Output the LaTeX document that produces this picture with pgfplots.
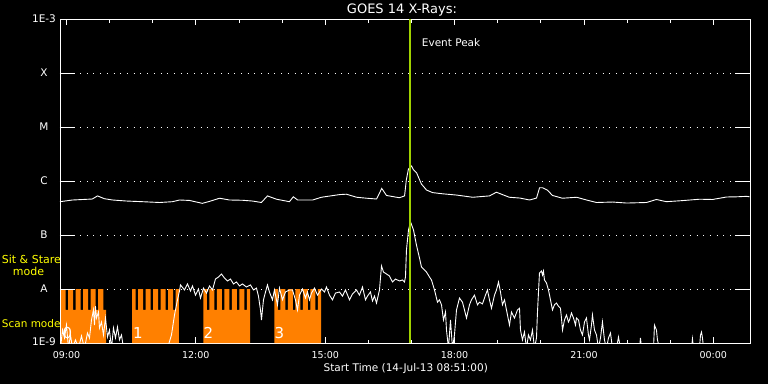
\documentclass[border=0pt]{standalone}
\usepackage{fontspec}
\setmainfont{DejaVu Sans}
\usepackage{pgfplots}
\pgfplotsset{compat=1.18}
\definecolor{scanorange}{RGB}{255,128,0}
\definecolor{peakgreen}{RGB}{160,210,0}
\definecolor{idlyellow}{RGB}{255,255,0}
\newcommand\fs[1]{\fontsize{#1}{#1}\selectfont}
\begin{document}
\begin{tikzpicture}[x=1pt,y=1pt]
\path[use as bounding box] (-60,-41) rectangle (708,343);
\fill[black] (-60,-41) rectangle (708,343);
\begin{axis}[
  at={(0,0)}, anchor=south west, scale only axis,
  width=690pt, height=324pt,
  xmin=8.85, xmax=24.85, ymode=log, ymin=1e-9, ymax=1e-3,
  axis line style={white, line width=0.9pt},
  tick align=inside,
  xtick={9,12,15,18,21,24},
  xticklabels={09:00,12:00,15:00,18:00,21:00,00:00},
  minor xtick={10,11,13,14,16,17,19,20,22,23},
  major tick length=6pt, minor tick length=3.5pt,
  xtick style={white, line width=0.9pt},
  xticklabel style={white, font=\fs{9.5pt}, yshift=-5.3pt},
  ytick={1e-9,1e-8,1e-7,1e-6,1e-5,1e-4,1e-3},
  yticklabels={\raisebox{3pt}{1E-9},A,B,C,M,X,\raisebox{-4pt}{1E-3}},
  ytick style={draw=none},
  yminorticks=false,
  yticklabel style={white, anchor=center, xshift=-16pt, font=\fs{10.5pt}},
  ymajorgrids, major grid style={white, line width=0.9pt, dash pattern=on 0.9pt off 5.8pt},
]
% scan mode blocks (orange combs)
\addplot[fill=scanorange, draw=none] coordinates {
(8.877,1e-9)(8.877,1e-8)(8.979,1e-8)(8.979,4.1e-9)(9.037,4.1e-9)(9.037,1e-8)(9.153,1e-8)(9.153,4.1e-9)(9.211,4.1e-9)(9.211,1e-8)(9.327,1e-8)(9.327,4.1e-9)(9.385,4.1e-9)(9.385,1e-8)(9.501,1e-8)(9.501,4.1e-9)(9.559,4.1e-9)(9.559,1e-8)(9.675,1e-8)(9.675,4.1e-9)(9.733,4.1e-9)(9.733,1e-8)(9.858,1e-8)(9.858,4.1e-9)(9.921,4.1e-9)(9.921,1e-9)} -- cycle;
\addplot[fill=scanorange, draw=none] coordinates {
(10.524,1e-9)(10.524,1e-8)(10.605,1e-8)(10.605,4.1e-9)(10.663,4.1e-9)(10.663,1e-8)(10.779,1e-8)(10.779,4.1e-9)(10.837,4.1e-9)(10.837,1e-8)(10.953,1e-8)(10.953,4.1e-9)(11.011,4.1e-9)(11.011,1e-8)(11.127,1e-8)(11.127,4.1e-9)(11.185,4.1e-9)(11.185,1e-8)(11.301,1e-8)(11.301,4.1e-9)(11.359,4.1e-9)(11.359,1e-8)(11.475,1e-8)(11.475,4.1e-9)(11.532,4.1e-9)(11.532,1e-8)(11.609,1e-8)(11.609,1e-9)} -- cycle;
\addplot[fill=scanorange, draw=none] coordinates {
(12.177,1e-9)(12.177,1e-8)(12.254,1e-8)(12.254,4.1e-9)(12.312,4.1e-9)(12.312,1e-8)(12.428,1e-8)(12.428,4.1e-9)(12.486,4.1e-9)(12.486,1e-8)(12.601,1e-8)(12.601,4.1e-9)(12.659,4.1e-9)(12.659,1e-8)(12.775,1e-8)(12.775,4.1e-9)(12.833,4.1e-9)(12.833,1e-8)(12.949,1e-8)(12.949,4.1e-9)(13.007,4.1e-9)(13.007,1e-8)(13.123,1e-8)(13.123,4.1e-9)(13.181,4.1e-9)(13.181,1e-8)(13.260,1e-8)(13.260,1e-9)} -- cycle;
\addplot[fill=scanorange, draw=none] coordinates {
(13.823,1e-9)(13.823,1e-8)(13.900,1e-8)(13.900,4.1e-9)(13.958,4.1e-9)(13.958,1e-8)(14.074,1e-8)(14.074,4.1e-9)(14.132,4.1e-9)(14.132,1e-8)(14.248,1e-8)(14.248,4.1e-9)(14.306,4.1e-9)(14.306,1e-8)(14.422,1e-8)(14.422,4.1e-9)(14.480,4.1e-9)(14.480,1e-8)(14.596,1e-8)(14.596,4.1e-9)(14.654,4.1e-9)(14.654,1e-8)(14.770,1e-8)(14.770,4.1e-9)(14.828,4.1e-9)(14.828,1e-8)(14.906,1e-8)(14.906,1e-9)} -- cycle;
% major y ticks
\pgfplotsinvokeforeach{-8,-7,-6,-5,-4}{
  \draw[white, line width=0.9pt] (axis cs:8.85,1e#1) -- ++(15pt,0pt);
  \draw[white, line width=0.9pt] (axis cs:24.85,1e#1) -- ++(-15pt,0pt);
}
% long channel (1-8 A)
\addplot[white, line width=0.9pt] coordinates {
(8.85,4.14e-7)(9.14,4.45e-7)(9.60,4.64e-7)(9.72,5.3e-7)(9.88,4.7e-7)(10.07,4.45e-7)(10.39,4.26e-7)(10.76,4.14e-7)(11.16,4.0e-7)(11.46,4.14e-7)(11.62,4.45e-7)(11.85,4.37e-7)(12.15,3.86e-7)(12.32,4.2e-7)(12.55,4.8e-7)(12.78,4.45e-7)(13.08,4.4e-7)(13.31,4.26e-7)(13.52,4.0e-7)(13.60,4.7e-7)(13.66,5.3e-7)(13.87,4.6e-7)(14.17,4.14e-7)(14.26,5.1e-7)(14.36,4.45e-7)(14.71,4.45e-7)(14.91,5.0e-7)(15.33,5.6e-7)(15.49,5.7e-7)(15.73,5.0e-7)(15.96,4.8e-7)(16.19,4.64e-7)(16.26,6.0e-7)(16.31,7.3e-7)(16.42,5.4e-7)(16.72,4.9e-7)(16.84,5.3e-7)(16.88,1.04e-6)(16.93,1.67e-6)(17.00,1.90e-6)(17.05,1.6e-6)(17.12,1.41e-6)(17.23,8.8e-7)(17.35,6.8e-7)(17.49,6.1e-7)(17.72,5.8e-7)(18.04,5.5e-7)(18.42,5.0e-7)(18.81,5.3e-7)(18.97,6.2e-7)(19.11,5.6e-7)(19.27,5.0e-7)(19.51,4.84e-7)(19.74,4.45e-7)(19.90,4.84e-7)(19.97,7.5e-7)(20.04,7.5e-7)(20.15,6.8e-7)(20.27,5.4e-7)(20.50,4.8e-7)(20.83,5.0e-7)(21.06,4.45e-7)(21.29,4.0e-7)(21.66,4.08e-7)(21.99,3.91e-7)(22.45,4.0e-7)(22.68,4.55e-7)(22.91,4.14e-7)(23.29,4.34e-7)(23.68,4.6e-7)(23.98,4.55e-7)(24.31,5.06e-7)(24.54,5.1e-7)(24.77,5.2e-7)(24.84,5.1e-7)};
% short channel (0.5-4 A)
\addplot[white, line width=0.9pt] coordinates {
(8.861,8e-10)(8.908,1.74e-9)(8.954,1.24e-9)(9.000,2.15e-9)(9.047,8e-10)(9.093,1.41e-9)(9.139,8e-10)(9.209,1.14e-9)(9.279,8e-10)(9.348,1.35e-9)(9.418,8e-10)(9.487,1.53e-9)(9.534,1.24e-9)(9.580,2.67e-9)(9.626,4.1e-9)(9.650,2.15e-9)(9.673,4.8e-9)(9.696,2.9e-9)(9.742,3.75e-9)(9.766,1.9e-9)(9.812,2.45e-9)(9.858,1.41e-9)(9.905,2.9e-9)(9.951,1.29e-9)(9.997,1.74e-9)(10.044,8e-10)(10.090,1.9e-9)(10.137,1.24e-9)(10.183,1.98e-9)(10.229,1.14e-9)(10.276,1.41e-9)(10.322,8e-10)
(11.342,8e-10)(11.435,1.41e-9)(11.505,3.3e-9)(11.574,6.3e-9)(11.621,9.2e-9)(11.644,1.19e-8)(11.737,9.6e-9)(11.806,1.24e-8)(11.876,9.2e-9)(11.922,1.14e-8)(11.992,7.7e-9)(12.061,1.0e-8)(12.108,6.8e-9)(12.177,1.04e-8)(12.247,8.4e-9)(12.316,1.14e-8)(12.386,9.6e-9)(12.455,1.53e-8)(12.525,1.67e-8)(12.594,1.9e-8)(12.664,1.6e-8)(12.734,1.41e-8)(12.803,1.53e-8)(12.873,1.24e-8)(12.942,1.35e-8)(13.012,1.14e-8)(13.081,1.24e-8)(13.174,1.09e-8)(13.267,1.19e-8)(13.336,9.6e-9)(13.406,1.04e-8)(13.452,7.4e-9)(13.499,4.1e-9)(13.522,2.67e-9)(13.568,6.3e-9)(13.615,8.8e-9)(13.661,1.19e-8)(13.707,8.8e-9)(13.777,6.3e-9)(13.823,9.6e-9)(13.893,5.1e-9)(13.939,1.04e-8)(14.009,6.3e-9)(14.078,8.8e-9)(14.171,9.6e-9)
(14.241,9.6e-9)(14.310,6.3e-9)(14.357,4.1e-9)(14.403,7.7e-9)(14.473,1.0e-8)(14.542,6.8e-9)(14.589,8.8e-9)(14.635,6.3e-9)(14.681,8.4e-9)(14.751,1.04e-8)(14.821,7.7e-9)(14.913,1.0e-8)(14.983,8.8e-9)(15.029,1.09e-8)(15.099,7.7e-9)(15.168,6.3e-9)(15.238,8.4e-9)(15.331,8.8e-9)(15.400,7.4e-9)(15.470,9.6e-9)(15.563,6.3e-9)(15.632,8.1e-9)(15.725,9.6e-9)(15.794,7.7e-9)(15.864,1.09e-8)(15.934,6.3e-9)(15.980,7.4e-9)(16.049,8.8e-9)(16.096,6.0e-9)(16.142,7.4e-9)(16.189,5.5e-9)(16.258,9.6e-9)(16.305,2.67e-8)(16.351,2.06e-8)(16.420,1.9e-8)(16.490,1.74e-8)(16.560,1.35e-8)(16.629,1.53e-8)(16.722,1.41e-8)(16.791,1.47e-8)(16.838,1.35e-8)(16.861,1.67e-8)(16.884,5.3e-8)(16.931,1.24e-7)(16.977,1.76e-7)(17.047,1.24e-7)(17.116,6.5e-8)(17.186,3.75e-8)(17.232,2.56e-8)(17.302,2.25e-8)(17.348,2.06e-8)(17.418,1.67e-8)(17.464,1.47e-8)(17.534,9.6e-9)(17.603,5.7e-9)(17.649,6.3e-9)(17.696,5.1e-9)(17.742,2.67e-9)(17.789,3.75e-9)(17.812,1.74e-9)(17.858,8e-10)(17.905,2.67e-9)(17.951,8e-10)(17.997,1.41e-9)(18.044,4.1e-9)(18.113,6.8e-9)(18.183,5.7e-9)(18.229,4.1e-9)(18.276,2.9e-9)(18.345,5.1e-9)(18.391,6.3e-9)(18.461,7.7e-9)(18.531,5.1e-9)(18.577,5.7e-9)(18.646,5.3e-9)(18.716,7.7e-9)(18.762,9.6e-9)(18.809,6.3e-9)(18.855,4.4e-9)(18.925,7.7e-9)(18.971,9.6e-9)(19.018,1.35e-8)(19.064,8.8e-9)(19.110,5.1e-9)(19.157,6.3e-9)(19.203,4.1e-9)(19.273,2.15e-9)(19.319,3.75e-9)(19.389,2.9e-9)(19.458,4.1e-9)(19.505,4.4e-9)
(19.528,1.74e-9)(19.574,1.14e-9)(19.620,1.6e-9)(19.667,8e-10)(19.713,1.41e-9)(19.760,1.14e-9)(19.806,1.74e-9)(19.852,8e-10)(19.899,1.24e-9)(19.922,3.75e-9)(19.968,1.98e-8)(19.991,2.06e-8)(20.015,2.15e-8)(20.038,1.82e-8)(20.061,2.15e-8)(20.084,1.47e-8)(20.131,1.29e-8)(20.177,9.6e-9)(20.223,6.3e-9)(20.246,5.1e-9)(20.270,4.1e-9)(20.316,5.1e-9)(20.362,5.5e-9)(20.409,4.8e-9)(20.455,4.4e-9)(20.478,2.9e-9)(20.502,1.74e-9)(20.548,2.67e-9)(20.594,3.3e-9)(20.641,2.45e-9)(20.664,2.67e-9)(20.710,3.6e-9)(20.757,2.9e-9)(20.803,2.15e-9)(20.826,2.9e-9)(20.873,2.67e-9)(20.919,1.74e-9)(20.965,1.41e-9)(21.012,2.45e-9)(21.058,2.9e-9)(21.104,1.41e-9)(21.128,1.14e-9)(21.174,2.15e-9)(21.197,3.3e-9)(21.244,1.74e-9)(21.290,1.41e-9)(21.336,8e-10)(21.383,1.24e-9)(21.429,2.45e-9)(21.475,1.14e-9)(21.522,8e-10)(21.568,1.24e-9)(21.615,1.53e-9)(21.661,8e-10)(21.754,8e-10)(21.800,1.29e-9)(21.846,8e-10)
(22.287,8e-10)(22.310,1.24e-9)(22.334,8e-10)(22.612,8e-10)(22.635,2.15e-9)(22.681,1.74e-9)(22.704,1.14e-9)(22.751,8e-10)(23.493,8e-10)(23.516,1.19e-9)(23.539,8e-10)(23.678,8e-10)(23.702,1.41e-9)(23.725,1.6e-9)(23.748,1.24e-9)(23.773,8e-10)(24.838,8e-10)};
% event peak marker
\addplot[peakgreen, line width=2.4pt] coordinates {(16.97,1e-9)(16.97,1e-3)};
% block numbers
\node[white, font=\fs{15pt}] at (axis cs:9.024,1.53e-9) {0};
\node[white, font=\fs{15pt}] at (axis cs:10.658,1.53e-9) {1};
\node[white, font=\fs{15pt}] at (axis cs:12.293,1.53e-9) {2};
\node[white, font=\fs{15pt}] at (axis cs:13.939,1.53e-9) {3};
\end{axis}
\node[white, font=\fs{13pt}] at (342,333) {GOES 14 X-Rays:};
\node[white, font=\fs{10.5pt}, anchor=west, inner sep=0pt] at (361.7,300.3) {Event Peak};
\node[white, font=\fs{10.5pt}] at (345.8,-25.3) {Start Time (14-Jul-13 08:51:00)};
\node[idlyellow, font=\fs{11pt}, anchor=west, inner sep=0pt] at (-58.3,84) {Sit \& Stare};
\node[idlyellow, font=\fs{11pt}, anchor=west, inner sep=0pt] at (-47.3,72) {mode};
\node[idlyellow, font=\fs{10.5pt}, anchor=west, inner sep=0pt] at (-58.3,19) {Scan mode};
\end{tikzpicture}
\end{document}
